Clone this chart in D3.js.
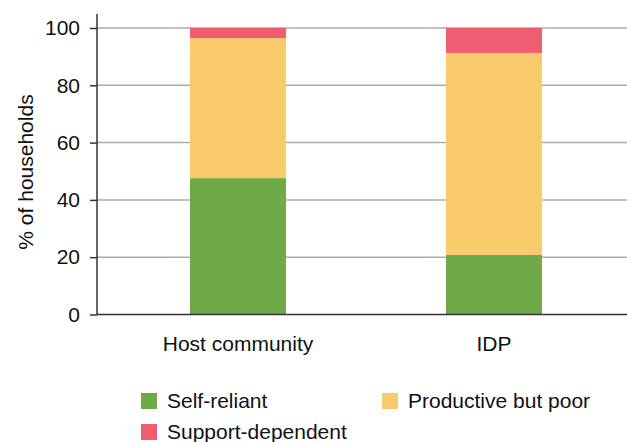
<!DOCTYPE html>
<html>
<head>
<meta charset="utf-8">
<script src="https://cdn.jsdelivr.net/npm/d3@7"></script>
<style>
  html, body { margin: 0; padding: 0; background: #fff; }
  svg { display: block; font-family: "Liberation Sans", Arial, Helvetica, sans-serif; }
</style>
</head>
<body>
<svg id="chart" width="627" height="442"></svg>
<script>
// Household self-reliance categories by group (% of households)
const categories = ["Host community", "IDP"];
const seriesNames = ["Self-reliant", "Productive but poor", "Support-dependent"];
const selfReliant = [47.6, 20.8];
const productivePoor = [48.9, 70.5];
const supportDependent = [3.5, 8.7];
const yTicks = [0, 20, 40, 60, 80, 100];
const colors = ["#70aa46", "#f9ca6a", "#ef5d73"];

const rows = categories.map((c, i) => ({
  category: c,
  "Self-reliant": selfReliant[i],
  "Productive but poor": productivePoor[i],
  "Support-dependent": supportDependent[i]
}));

const svg = d3.select("#chart");
const W = 627;
const plotLeft = 97, plotTop = 28, plotBottom = 314.5;
const fontSize = 21;

const x = d3.scaleBand()
  .domain(categories)
  .range([plotLeft, 635])
  .paddingInner(0.625)
  .paddingOuter(0.3633);

const y = d3.scaleLinear().domain([0, 100]).range([plotBottom, plotTop]);

const color = d3.scaleOrdinal().domain(seriesNames).range(colors);

// gridlines
svg.append("g")
  .selectAll("line")
  .data(yTicks.filter(d => d > 0))
  .join("line")
  .attr("x1", plotLeft)
  .attr("x2", W)
  .attr("y1", d => y(d))
  .attr("y2", d => y(d))
  .attr("stroke", "#ababab")
  .attr("stroke-width", 1.5);

// stacked bars
const stack = d3.stack().keys(seriesNames)(rows);
svg.append("g")
  .selectAll("g")
  .data(stack)
  .join("g")
  .attr("fill", d => color(d.key))
  .selectAll("rect")
  .data(d => d)
  .join("rect")
  .attr("x", d => x(d.data.category))
  .attr("width", x.bandwidth())
  .attr("y", d => y(d[1]))
  .attr("height", d => y(d[0]) - y(d[1]));

// y axis
const yAxis = svg.append("g")
  .attr("transform", `translate(${plotLeft},0)`)
  .call(d3.axisLeft(y).tickValues(yTicks).tickSize(7).tickPadding(10));
yAxis.select(".domain").remove();
yAxis.selectAll(".tick line").attr("stroke", "#333").attr("stroke-width", 1.5);
yAxis.selectAll(".tick text").attr("font-size", fontSize).attr("fill", "#111")
  .attr("font-family", "Liberation Sans, Arial, sans-serif");
svg.append("line")
  .attr("x1", plotLeft).attr("x2", plotLeft)
  .attr("y1", 14).attr("y2", plotBottom)
  .attr("stroke", "#333").attr("stroke-width", 1.5);

// x axis
svg.append("line")
  .attr("x1", plotLeft).attr("x2", W)
  .attr("y1", plotBottom).attr("y2", plotBottom)
  .attr("stroke", "#333").attr("stroke-width", 1.5);
svg.append("g")
  .selectAll("text")
  .data(categories)
  .join("text")
  .attr("x", d => x(d) + x.bandwidth() / 2)
  .attr("y", 351)
  .attr("text-anchor", "middle")
  .attr("font-size", fontSize)
  .attr("fill", "#111")
  .text(d => d);

// y axis title
svg.append("text")
  .attr("transform", "translate(33,172) rotate(-90)")
  .attr("text-anchor", "middle")
  .attr("font-size", fontSize)
  .attr("fill", "#111")
  .text("% of households");

// legend
const legendPos = [[141, 393], [382, 393], [141, 424]];
const legend = svg.append("g")
  .selectAll("g")
  .data(seriesNames)
  .join("g")
  .attr("transform", (d, i) => `translate(${legendPos[i][0]},${legendPos[i][1]})`);
legend.append("rect")
  .attr("width", 16).attr("height", 16)
  .attr("fill", d => color(d));
legend.append("text")
  .attr("x", 26).attr("y", 14.8)
  .attr("font-size", fontSize)
  .attr("fill", "#111")
  .text(d => d);
</script>
</body>
</html>
